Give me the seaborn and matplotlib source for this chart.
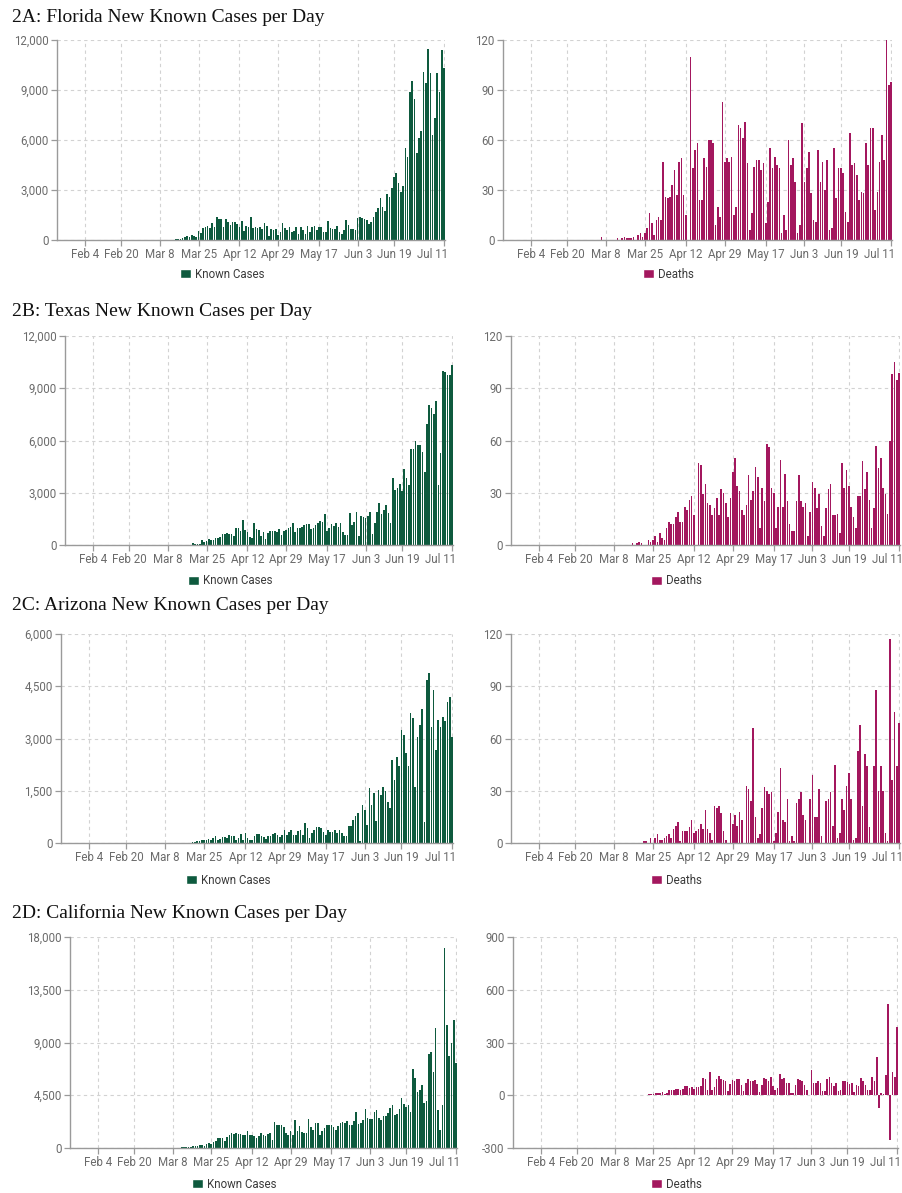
import numpy as np
import pandas as pd
import matplotlib
matplotlib.use("Agg")
import matplotlib.pyplot as plt
import matplotlib.transforms as mtransforms
from matplotlib.patches import Patch
from matplotlib.ticker import FuncFormatter
import seaborn as sns

# ---------------------------------------------------------------------------
# Daily series; every series ends on the last day of the axis (Jul 11)
# ---------------------------------------------------------------------------
axis_first_day = "2020-01-23"
axis_last_day = "2020-07-11"
tick_labels = ["Feb 4", "Feb 20", "Mar 8", "Mar 25", "Apr 12", "Apr 29",
               "May 17", "Jun 3", "Jun 19", "Jul 11"]

fl_cases = [
    0, 2, 0, 1, 1, 4, 5, 3, 4, 7, 5, 12, 25, 30, 40, 50, 60,
    100, 160, 240, 160, 280, 240, 200,
    540, 400, 700, 800, 840, 700, 1000, 800, 1400, 1240,
    1240, 800, 1240, 1100, 900, 1100, 1100, 950, 800, 1140,
    560, 840, 760, 1360, 700, 760, 700, 760, 660, 1040,
    840, 260, 640, 600, 660, 300, 500, 1000, 700, 600,
    760, 500, 560, 760, 360, 760, 600, 360, 860, 460,
    800, 860, 600, 760, 800, 460, 500, 1160, 740, 660,
    660, 840, 460, 340, 600, 1200, 900, 680, 640, 600,
    1300, 1400, 1300, 1260, 1200, 940, 1080, 1360, 1680, 1900,
    2550, 2000, 1740, 2750, 2600, 3150,
    3800, 4050, 3450, 2900, 3250, 5500, 5000, 8900, 9550, 8450,
    5250, 6100, 6550, 10100, 9450, 11450, 10050, 6300, 7350, 10000,
    8900, 11400, 10350,
]
fl_deaths = [
    2, 0, 0, 0, 0, 0, 0, 1, 0, 1, 2, 1, 1, 1, 2, 0, 3, 4, 2, 4,
    7, 16, 10, 3, 12, 14, 12,
    47, 26, 25, 26, 33, 42, 27, 47, 49, 27, 15, 0,
    110, 43, 54, 58, 24, 24, 49, 44, 60, 60,
    58, 9, 20, 14, 83, 47, 49, 47, 50, 15,
    20, 69, 67, 61, 71, 46, 6, 16, 44, 48,
    48, 42, 46, 10, 23, 55, 43, 50, 45, 43,
    4, 15, 6, 60, 45, 49, 35, 4, 9, 70,
    35, 43, 53, 28, 12, 11, 54, 35, 47, 30,
    48, 6, 7, 55, 25, 43, 43, 40, 17, 11,
    64, 45, 46, 39, 24, 29, 28, 58, 45, 67,
    67, 18, 29, 47, 63, 48, 120, 93, 95,
]
tx_cases = [
    100, 60, 60, 60, 290, 200, 250, 330, 290, 270,
    380, 400, 480, 630, 630, 700, 630, 610, 530, 1000,
    1000, 800, 1430, 860, 730, 440, 380, 1240, 900, 860,
    530, 760, 330, 700, 820, 820, 820, 760, 900, 600,
    800, 860, 950, 1050, 1240, 760, 950, 950, 1050, 1150,
    1200, 1200, 920, 950, 1150, 1280, 1380, 1300, 1760, 800,
    950, 1200, 1090, 1280, 1050, 1280, 760, 570, 570, 1810,
    1150, 1340, 1910, 530, 1660, 1620, 1570, 1660, 1910, 630,
    1280, 1910, 2390, 1760, 2000, 2290, 1810, 1240, 3860, 3130,
    3300, 3500, 3090, 4370, 3860, 3440, 5540, 5540, 5960, 5730,
    5730, 5350, 4200, 6930, 8060, 7890, 7540, 8250, 3440, 5290,
    10000, 9940, 9750, 9750, 10340,
]
tx_deaths = [
    1, 0, 1, 2, 1, 0, 0, 3, 2, 3, 5, 2, 7, 4, 3, 10, 13, 12, 12, 16,
    19, 13, 13, 22, 20, 26, 28, 17, 0,
    47, 46, 29, 35, 24, 23, 17, 21, 27, 17,
    32, 30, 24, 16, 27, 42, 50, 34, 31, 20,
    17, 23, 40, 26, 31, 45, 39, 10, 33, 25,
    58, 56, 33, 30, 10, 22, 49, 22, 41, 25,
    12, 8, 8, 25, 40, 25, 22, 24, 5, 19,
    36, 33, 21, 29, 11, 5, 21, 32, 35, 17,
    17, 18, 7, 47, 33, 43, 34, 22, 16, 10,
    28, 28, 48, 32, 42, 26, 10, 21, 57, 44,
    50, 33, 29, 18, 60, 98, 105, 95, 99,
]
az_cases = [
    2, 3, 5, 8, 12, 20, 30, 50, 65, 75,
    75, 95, 125, 85, 145, 190, 95, 115, 160, 160,
    145, 240, 210, 190, 95, 145, 270, 75, 285,
    145, 95, 75, 200, 250, 260, 200, 160, 110, 200,
    200, 270, 280, 220, 180, 220,
    380, 240, 330, 380, 240, 240, 350, 380, 240, 570,
    430, 145, 285, 380, 450, 460, 430, 330, 240, 380,
    330, 330, 380, 285, 380, 285, 190, 190, 480, 480,
    670, 765, 860,
    50, 1100, 955,
    525, 1575, 1100, 1430, 620, 1530, 1385, 1620, 1480, 1190,
    1000, 2390, 1815, 2480, 2200,
    3230, 3100, 2580, 2200, 3725, 3580, 1600, 3040, 3390, 3850,
    590, 4680, 4870, 3320, 4390, 2670, 3530, 3340, 3630, 3510,
    4060, 4200, 3040,
]
az_deaths = [
    1, 1, 0, 3, 0,
    3, 5, 2, 2, 3, 4, 5, 3, 8, 10,
    12, 1, 7, 7, 7, 9, 13, 6, 7, 8,
    11, 8, 19, 8, 6, 2, 21, 20, 21, 17,
    7, 2, 0, 17, 11, 16, 10, 18, 13, 0,
    33, 31, 24, 66, 15, 3, 5, 20, 32, 30,
    28, 29, 1, 6, 18, 43, 13, 12, 25, 1,
    4, 1, 23, 25, 29, 16, 13, 0, 25, 39,
    15, 15, 31, 4, 0, 24, 25, 29, 10, 45,
    3, 6, 25, 19, 33, 40, 25, 2, 3, 53,
    68, 21, 51, 44, 9, 0, 44, 88, 30, 44,
    30, 6, 1, 117, 36, 75, 44, 69,
]
ca_cases = [
    30, 30, 55, 55, 55, 85, 115, 140, 140, 200,
    225, 255, 200, 310, 425, 340, 480, 565, 850, 850,
    850, 620, 905, 1130, 1270, 1190, 1270, 1215, 1215, 1130,
    1075, 1415, 1130, 1130, 990, 850, 990, 1270, 1130, 990,
    1190, 1270, 710, 2200, 1980, 1980, 1925, 1755, 1270, 1075,
    1415, 1130, 2350, 1470, 1840, 1360, 1270, 1270, 2490, 1780,
    1555, 2120, 2120, 1130, 1415, 1700, 1980, 1925, 1980, 1780,
    1555, 1840, 2120, 2180, 2120, 2265, 1980, 1925, 2265, 3110,
    2040, 2120, 2400, 3340, 2550, 2490, 2490, 3110, 3250, 2550,
    2400, 2770, 2690, 2970, 3450, 3680, 2830, 2890, 3340, 4245,
    3735, 3540, 3680, 3110,
    6700, 5940, 4810, 4950, 5380, 3820, 4020, 8010, 8210, 6510,
    10250, 3250, 1560, 3680, 17070, 10470, 7870, 9000, 10900, 7220,
]
ca_deaths = [
    1, 1, 1, 1, 1, 2, 2, 3, 5, 5, 8, 10,
    13, 15, 17, 8, 15, 30, 30, 30, 38, 38,
    30, 38, 55, 53, 42, 47, 35, 45, 48, 52,
    98, 90, 30, 135, 30, 45, 92, 110, 95, 85,
    80, 25, 65, 88, 80, 90, 95, 60, 25, 70,
    90, 82, 80, 88, 65, 20, 60, 100, 90, 80,
    105, 50, 30, 40, 120, 90, 100, 70, 70, 15,
    15, 60, 90, 85, 80, 60, 30, 0, 145, 70,
    70, 80, 70, 25, 25, 95, 105, 70, 55, 70,
    25, 30, 80, 80, 75, 65, 70, 20, 60, 55,
    100, 80, 60, 30, 30, 105, 80, 220, -70, 15,
    5, 117, 520, -255, 135, 105, 390,
]

titles = ["2A: Florida New Known Cases per Day",
          "2B: Texas New Known Cases per Day",
          "2C: Arizona New Known Cases per Day",
          "2D: California New Known Cases per Day"]
case_ticks = [[0, 3000, 6000, 9000, 12000],
              [0, 3000, 6000, 9000, 12000],
              [0, 1500, 3000, 4500, 6000],
              [0, 4500, 9000, 13500, 18000]]
death_ticks = [[0, 30, 60, 90, 120],
               [0, 30, 60, 90, 120],
               [0, 30, 60, 90, 120],
               [-300, 0, 300, 600, 900]]
case_series = [fl_cases, tx_cases, az_cases, ca_cases]
death_series = [fl_deaths, tx_deaths, az_deaths, ca_deaths]

CASE_COLOR = "#0e5a3e"
DEATH_COLOR = "#a3175e"

# ---------------------------------------------------------------------------
# Layout (pixels)
# ---------------------------------------------------------------------------
W, H = 903, 1193
title_y = [17, 312, 606, 913]
rows_y = [(40, 240), (336, 545), (634, 843), (937, 1148)]
left_x = [(57, 444), (65, 452), (61, 452), (70, 456)]
right_x = [(503, 891), (511, 899), (511, 899), (513, 897)]
legend_y = [274, 581, 880, 1184]

sns.set_theme(style="white")
plt.rcParams["font.family"] = ["Roboto", "DejaVu Sans"]

fig = plt.figure(figsize=(W / 100, H / 100), dpi=100)
fig.patch.set_facecolor("white")

start = pd.Timestamp(axis_first_day)
last = (pd.Timestamp(axis_last_day) - start).days
tick_pos = [(pd.to_datetime(t + " 2020", format="%b %d %Y") - start).days
            for t in tick_labels]
x_lo, x_hi = -0.3, last + 0.5


def draw_panel(xpix, ypix, values, color, yticks, label, ly):
    x0, xt = xpix
    top, bottom = ypix
    span = (xt - x0) * (x_hi - x_lo) / (last - x_lo)
    ax = fig.add_axes([x0 / W, 1 - bottom / H, span / W, (bottom - top) / H])
    days = np.arange(last - len(values) + 1, last + 1)
    df = pd.DataFrame({"day": days, "value": values})
    sns.barplot(data=df, x="day", y="value", native_scale=True, color=color,
                saturation=1, width=0.72, errorbar=None, linewidth=0, ax=ax)
    ax.set_xlim(x_lo, x_hi)
    ax.set_ylim(yticks[0], yticks[-1])
    ax.set_xticks(tick_pos)
    ax.set_xticklabels(tick_labels)
    ax.set_yticks(yticks)
    ax.yaxis.set_major_formatter(FuncFormatter(lambda v, p: f"{v:,.0f}"))
    ax.set_xlabel("")
    ax.set_ylabel("")
    ax.grid(True, color="#d2d2d2", linestyle=(0, (3, 3)), linewidth=0.8)
    ax.set_axisbelow(True)
    for s in ("top", "right"):
        ax.spines[s].set_visible(False)
    for s in ("left", "bottom"):
        ax.spines[s].set_color("#9a9a9a")
        ax.spines[s].set_linewidth(1.0)
    ax.tick_params(axis="both", length=4, width=0.9, color="#9a9a9a",
                   labelcolor="#6b6b6b", labelsize=8.3, pad=2,
                   bottom=True, left=True)
    # the final date label is kept inside the plot's right edge
    end_lab = ax.get_xticklabels()[-1]
    end_lab.set_horizontalalignment("right")
    end_lab.set_transform(end_lab.get_transform() + mtransforms.ScaledTranslation(
        4 / 100, 0, fig.dpi_scale_trans))
    ax.set_facecolor("white")
    cx = (x0 + x0 + span) / 2 - 29
    fig.legend(handles=[Patch(facecolor=color, label=label)], loc="center",
               bbox_to_anchor=(cx / W, 1 - ly / H), frameon=False,
               handlelength=0.95, handleheight=0.8, handletextpad=0.35,
               fontsize=8.3, labelcolor="#3a3a3a")
    return ax


for i in range(4):
    fig.text(12 / W, 1 - title_y[i] / H, titles[i], family="Liberation Serif",
             fontsize=14, color="#111111", va="center", ha="left")
    draw_panel(left_x[i], rows_y[i], case_series[i], CASE_COLOR,
               case_ticks[i], "Known Cases", legend_y[i])
    draw_panel(right_x[i], rows_y[i], death_series[i], DEATH_COLOR,
               death_ticks[i], "Deaths", legend_y[i])

fig.savefig("out.png", dpi=100, facecolor="white")
